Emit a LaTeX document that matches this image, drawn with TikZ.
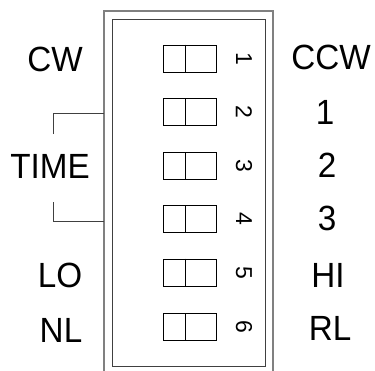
\documentclass[tikz,border=0pt]{standalone}
\usepackage{fontspec}
\setmainfont{Liberation Sans}
\tikzset{
  swbox/.style={draw, line width=0.8pt, minimum width=53pt, minimum height=27pt, inner sep=0pt},
  swnum/.style={font=\fontsize{23}{23}\selectfont, rotate=-90, inner sep=0pt},
  lbl/.style={font=\fontsize{35}{35}\selectfont, inner sep=0pt, xscale=0.95},
}
\begin{document}
\begin{tikzpicture}[x=1pt,y=-1pt]
      \useasboundingbox (0,0) rectangle (375,370);
      \draw[line width=2pt, color=gray] (104,372) -- (104,11) -- (273,11) -- (273,372);
      \draw[line width=1pt, color=darkgray] (112,19) rectangle (265,366);
      \foreach \i/\y in {1/58.5,2/112,3/166,4/219,5/272.5,6/327} {
        \node[swbox] (sw\i) at (189.5,\y) {};
        \draw[line width=0.8pt] ([xshift=-4.5pt]sw\i.north) -- ([xshift=-4.5pt]sw\i.south);
        \node[swnum] (num\i) at (244,\y) {\i};
      }
      \node[lbl] (cw) at (55,59) {CW};
      \node[lbl] (ccw) at (331,57) {CCW};
      \node[lbl] (time) at (50,166) {TIME};
      \node[lbl] (lo) at (60,275) {LO};
      \node[lbl] (nl) at (61,330) {NL};
      \node[lbl] (t1) at (325,112) {1};
      \node[lbl] (t2) at (327,165) {2};
      \node[lbl] (t3) at (327,218) {3};
      \node[lbl] (hi) at (328,275) {HI};
      \node[lbl] (rl) at (330,328) {RL};
      \coordinate (brTop) at (53,134);
      \coordinate (brBot) at (53,202);
      \coordinate (edgeTop) at (104,113);
      \coordinate (edgeBot) at (104,221);
      \draw[color=darkgray, line width=0.8pt] (brTop) |- (edgeTop);
      \draw[color=darkgray, line width=0.8pt] (brBot) |- (edgeBot);
    \end{tikzpicture}
\end{document}
